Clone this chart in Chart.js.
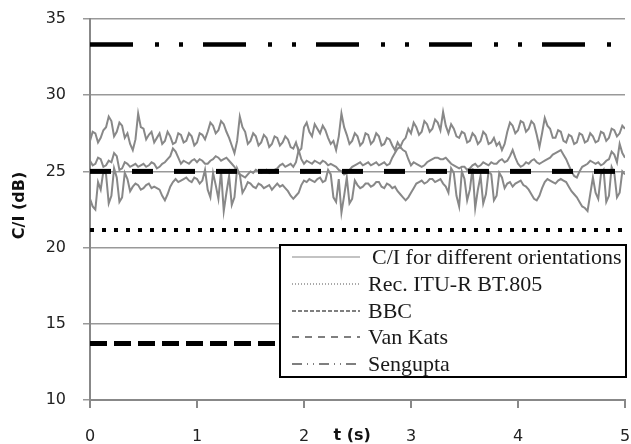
<!DOCTYPE html>
<html>
<head>
<meta charset="utf-8">
<script src="https://cdn.jsdelivr.net/npm/chart.js@4/dist/chart.umd.min.js"></script>
<style>
html,body{margin:0;padding:0;background:#fff;}
#wrap{width:631px;height:444px;}
</style>
</head>
<body>
<div id="wrap"><canvas id="c" width="631" height="444"></canvas></div>
<script>
// ---- data ----
const tSeconds = [
0,0.025,0.05,0.075,0.1,0.125,0.15,0.175,0.2,0.225,0.25,0.275,0.3,0.325,0.35,0.375,0.4,0.425,0.45,0.475,
0.5,0.525,0.55,0.575,0.6,0.625,0.65,0.675,0.7,0.725,0.75,0.775,0.8,0.825,0.85,0.875,0.9,0.925,0.95,0.975,
1,1.025,1.05,1.075,1.1,1.125,1.15,1.175,1.2,1.225,1.25,1.275,1.3,1.325,1.35,1.375,1.4,1.425,1.45,1.475,
1.5,1.525,1.55,1.575,1.6,1.625,1.65,1.675,1.7,1.725,1.75,1.775,1.8,1.825,1.85,1.875,1.9,1.925,1.95,1.975,
2,2.025,2.05,2.075,2.1,2.125,2.15,2.175,2.2,2.225,2.25,2.275,2.3,2.325,2.35,2.375,2.4,2.425,2.45,2.475,
2.5,2.525,2.55,2.575,2.6,2.625,2.65,2.675,2.7,2.725,2.75,2.775,2.8,2.825,2.85,2.875,2.9,2.925,2.95,2.975,
3,3.025,3.05,3.075,3.1,3.125,3.15,3.175,3.2,3.225,3.25,3.275,3.3,3.325,3.35,3.375,3.4,3.425,3.45,3.475,
3.5,3.525,3.55,3.575,3.6,3.625,3.65,3.675,3.7,3.725,3.75,3.775,3.8,3.825,3.85,3.875,3.9,3.925,3.95,3.975,
4,4.025,4.05,4.075,4.1,4.125,4.15,4.175,4.2,4.225,4.25,4.275,4.3,4.325,4.35,4.375,4.4,4.425,4.45,4.475,
4.5,4.525,4.55,4.575,4.6,4.625,4.65,4.675,4.7,4.725,4.75,4.775,4.8,4.825,4.85,4.875,4.9,4.925,4.95,4.975,
5];

const ciOrientationA = [
27.0,27.6,27.5,26.9,27.2,27.7,27.9,28.6,28.3,27.3,27.6,28.2,28.0,27.2,27.5,26.8,26.4,27.1,28.8,27.9,
27.8,27.1,27.4,27.6,26.9,27.2,27.5,26.8,27.0,27.6,27.3,26.8,26.9,27.5,27.4,26.9,27.0,27.5,27.3,26.7,
26.9,27.5,27.4,27.1,27.6,28.2,28.0,27.5,27.7,28.3,28.1,27.6,27.2,26.7,26.2,27.0,28.6,27.9,27.6,26.8,
27.0,27.5,27.3,26.7,26.9,27.4,27.2,26.6,26.8,27.3,27.2,26.7,26.9,27.3,27.1,26.6,26.5,26.9,26.3,26.5,
27.9,28.2,27.6,27.3,28.1,27.8,27.5,28.0,27.7,27.2,26.8,27.0,26.4,27.3,28.8,27.9,27.4,26.8,27.0,27.5,
27.3,26.7,26.9,27.5,27.4,26.8,27.0,27.5,27.3,26.7,26.8,27.2,27.1,26.7,26.4,26.9,26.6,27.0,27.2,27.8,
27.5,28.2,27.9,27.4,27.6,28.3,28.1,27.6,27.8,28.4,28.2,27.7,28.9,28.0,27.5,28.1,27.8,27.3,27.2,27.6,
27.5,26.9,27.0,27.5,27.3,26.8,27.0,27.6,27.4,26.8,26.9,27.2,26.7,26.9,26.4,26.8,27.6,28.2,28.0,27.5,
27.7,28.3,28.2,27.6,27.8,28.3,28.1,27.4,26.6,27.5,28.5,28.0,27.8,27.2,27.2,27.7,27.6,27.0,26.9,27.4,
27.3,26.8,26.9,27.5,27.4,26.9,27.0,27.5,27.3,26.9,27.0,27.6,27.5,27.0,27.2,27.8,27.7,27.3,27.5,28.0,
27.8];

const ciOrientationB = [
25.7,25.4,25.5,25.9,25.8,25.3,25.4,25.7,25.6,26.2,26.0,25.1,25.2,25.6,25.5,25.3,25.4,25.5,25.3,25.4,
25.5,25.3,25.4,25.6,25.5,25.2,25.3,25.5,25.6,25.8,26.0,26.5,26.3,25.9,25.5,25.7,25.6,25.5,25.7,25.8,
25.6,25.8,25.7,25.5,25.5,25.7,25.8,26.0,25.9,25.7,25.8,25.9,25.7,25.5,25.3,25.0,24.8,24.7,24.6,24.8,
25.0,24.9,25.1,25.0,24.9,25.0,25.1,24.9,25.0,25.1,25.2,25.4,25.5,25.3,25.4,25.5,25.3,25.6,26.4,25.8,
25.5,25.7,25.6,25.5,25.7,25.6,25.5,25.7,25.6,25.4,25.5,25.4,25.3,25.1,25.0,24.8,24.9,25.1,25.3,25.4,
25.5,25.6,25.4,25.5,25.6,25.4,25.5,25.6,25.4,25.5,25.6,25.4,25.5,25.9,26.2,26.5,26.6,26.4,26.3,25.8,
25.4,25.6,25.5,25.4,25.3,25.4,25.6,25.7,25.8,25.9,25.9,25.8,25.8,25.9,25.7,25.5,25.4,25.3,25.2,25.3,
25.3,25.1,25.2,25.4,25.5,25.3,25.4,25.6,25.5,25.4,25.6,25.5,25.5,25.7,25.8,25.6,25.7,26.0,26.4,25.9,
25.5,25.3,25.4,25.6,25.5,25.7,25.8,25.6,25.5,25.6,25.7,25.8,25.9,26.1,26.2,26.3,26.4,26.1,25.8,25.4,
25.0,24.7,24.6,25.0,25.3,25.4,25.5,25.7,25.6,25.5,25.6,25.4,25.5,25.7,25.8,26.3,26.1,25.6,26.8,26.2,
25.9];

const ciOrientationC = [
23.2,22.7,22.5,24.3,23.8,25.0,24.8,22.9,23.4,25.2,24.6,23.0,23.3,24.9,24.5,23.7,24.0,24.2,24.1,23.8,
23.9,24.1,24.2,23.9,24.0,23.9,23.8,23.4,23.1,23.5,24.0,24.3,24.5,24.3,24.4,24.5,24.6,24.4,24.3,24.6,
24.5,24.2,24.4,25.1,23.8,23.3,24.9,24.1,23.2,25.0,22.4,23.6,24.7,22.8,23.3,25.2,24.8,23.6,23.9,24.3,
24.2,24.0,23.9,24.2,24.1,23.9,24.0,24.1,23.8,24.0,24.2,24.0,24.1,23.9,23.7,23.4,23.2,23.4,23.6,24.1,
24.4,24.3,24.5,24.4,24.3,24.5,24.6,24.3,24.4,25.1,24.8,23.3,23.0,24.5,22.3,23.4,24.6,22.9,23.2,24.4,
24.1,23.9,24.0,24.2,24.2,24.0,24.1,24.3,24.3,24.0,23.9,24.2,24.1,23.9,24.0,23.7,23.5,23.3,23.1,23.3,
23.6,23.9,24.2,24.3,24.4,24.2,24.3,24.5,24.5,24.3,24.4,24.5,24.2,24.0,23.6,25.2,24.9,23.4,22.7,25.0,
24.5,23.1,23.8,25.2,22.6,23.8,24.7,22.9,23.5,25.0,24.8,23.1,23.4,24.9,24.6,23.9,24.2,24.3,24.0,24.2,
24.3,24.4,24.1,24.0,23.8,23.5,23.2,23.1,23.4,23.9,24.3,24.5,24.4,24.3,24.2,24.4,24.5,24.4,24.3,24.0,
23.7,23.5,23.3,23.0,22.7,22.6,22.4,23.5,24.6,23.6,23.2,24.8,25.1,23.0,23.4,25.3,24.9,23.3,23.6,25.0,
24.8];

const recItuLevel = 21.15;
const bbcLevel = 13.7;
const vanKatsLevel = 25;
const senguptaLevel = 33.33;

const xTicks = [0,1,2,3,4,5];
const yTicks = [10,15,20,25,30,35];
const legendLabels = ['C/I for different orientations','Rec. ITU-R BT.805','BBC','Van Kats','Sengupta'];
const xTitle = 't (s)';
const yTitle = 'C/I (dB)';

[ciOrientationA, ciOrientationB, ciOrientationC].forEach((a,i)=>{
  if (a.length !== tSeconds.length) throw new Error('series '+i+' length '+a.length+' vs '+tSeconds.length);
});

// ---- build ----
function pts(vals){ return tSeconds.map((t,i)=>({x:t,y:vals[i]})); }
function flat(v){ return [{x:xTicks[0],y:v},{x:xTicks[xTicks.length-1],y:v}]; }

const grey = '#888888';
const datasets = [
  {label:legendLabels[4], data:flat(senguptaLevel), borderColor:'#000', borderWidth:4.5, borderDash:[43,22,4,20,4,20], order:1, legendDash:[10,5,1,5,1,5], legendColor:'#000'},
  {label:legendLabels[3], data:flat(vanKatsLevel), borderColor:'#000', borderWidth:5, borderDash:[21,21], order:1, legendDash:[7,6], legendColor:'#000'},
  {label:legendLabels[2], data:flat(bbcLevel), borderColor:'#000', borderWidth:5, borderDash:[17,7], order:1, legendDash:[4,2], legendColor:'#000'},
  {label:legendLabels[1], data:flat(recItuLevel), borderColor:'#000', borderWidth:4, borderDash:[4,8], order:1, legendDash:[1,2], legendColor:'#555'},
  {label:legendLabels[0], data:pts(ciOrientationA), borderColor:grey, borderWidth:2, order:2, legendDash:[], legendColor:grey},
  {label:legendLabels[0], data:pts(ciOrientationB), borderColor:grey, borderWidth:2, order:2, skipLegend:true},
  {label:legendLabels[0], data:pts(ciOrientationC), borderColor:grey, borderWidth:2, order:2, skipLegend:true}
];
datasets.forEach(d=>{ d.pointRadius=0; d.fill=false; d.tension=0; });

const bgPlugin = {
  id:'bg',
  beforeDraw(chart){ const c=chart.ctx; c.save(); c.fillStyle='#fff'; c.fillRect(0,0,chart.width,chart.height); c.restore(); }
};

const overlayPlugin = {
  id:'overlay',
  afterDraw(chart){
    const c = chart.ctx;
    const xs = chart.scales.x, ys = chart.scales.y;
    c.save();
    // axis titles
    c.fillStyle = '#111';
    c.font = 'bold 16px "DejaVu Sans"';
    c.textAlign='center'; c.textBaseline='middle';
    c.fillText(xTitle, xs.getPixelForValue(2.45), 436);
    c.save();
    c.translate(20, (ys.top+ys.bottom)/2 - 4);
    c.rotate(-Math.PI/2);
    c.fillText(yTitle, 0, 0);
    c.restore();
    // legend
    const L=280, T=245, R=626, B=377;
    c.fillStyle='#fff'; c.fillRect(L,T,R-L,B-T);
    c.strokeStyle='#000'; c.lineWidth=2; c.strokeRect(L,T,R-L,B-T);
    const items = chart.data.datasets.filter(d=>!d.skipLegend);
    const order = legendLabels.map(l=>items.find(d=>d.label===l));
    const rowY=[257,284,311,337,364];
    c.font='22px "Liberation Serif"'; c.textAlign='left'; c.textBaseline='middle';
    order.forEach((d,i)=>{
      c.beginPath(); c.setLineDash(d.legendDash); c.lineWidth=1.2; c.strokeStyle=d.legendColor;
      c.moveTo(292,rowY[i]); c.lineTo(360,rowY[i]); c.stroke();
      c.setLineDash([]);
      c.fillStyle='#1a1a1a';
      c.fillText(d.label, i===0?372:368, rowY[i]+1);
    });
    c.restore();
  }
};

new Chart(document.getElementById('c'), {
  type:'line',
  data:{datasets},
  options:{
    responsive:false, animation:false, devicePixelRatio:1,
    layout:{padding:{top:19,right:6,left:0,bottom:0}},
    plugins:{legend:{display:false}, tooltip:{enabled:false}},
    scales:{
      x:{type:'linear', min:0, max:5,
        afterFit(s){ s.height=44; s.paddingLeft=0; s.paddingRight=0; },
        afterBuildTicks(s){ s.ticks = xTicks.map(v=>({value:v})); },
        grid:{drawOnChartArea:false, drawTicks:true, tickLength:8, color:'#888', lineWidth:2},
        border:{color:'#888', width:2},
        ticks:{font:{family:'DejaVu Sans', size:16}, color:'#222', padding:19, maxRotation:0}
      },
      y:{min:10, max:35,
        afterFit(s){ s.width=90; s.paddingTop=0; s.paddingBottom=0; },
        afterBuildTicks(s){ s.ticks = yTicks.map(v=>({value:v})); },
        grid:{color:'#999', lineWidth:1.5, tickLength:7},
        border:{color:'#888', width:2},
        ticks:{font:{family:'DejaVu Sans', size:16}, color:'#222', padding:17}
      }
    }
  },
  plugins:[bgPlugin, overlayPlugin]
});
</script>
</body>
</html>
